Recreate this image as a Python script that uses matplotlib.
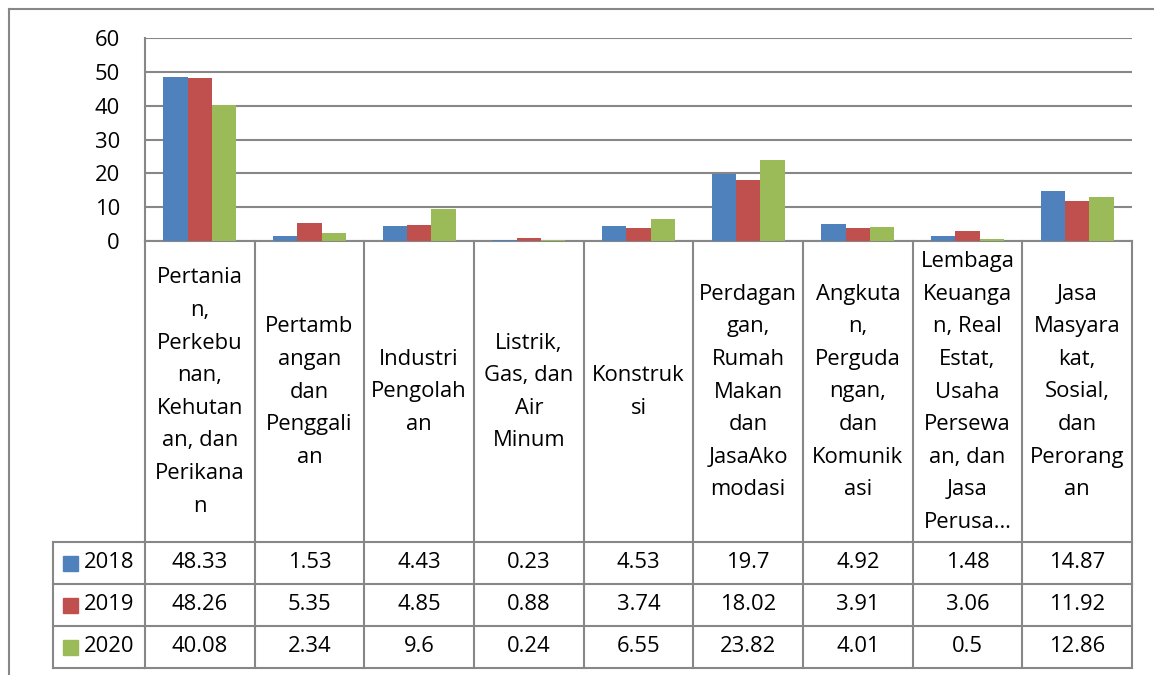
import matplotlib
matplotlib.use("Agg")
import matplotlib.pyplot as plt
from matplotlib import transforms
import numpy as np

plt.rcParams['font.family'] = ['Open Sans', 'DejaVu Sans']

categories = [
    "Pertania\nn,\nPerkebu\nnan,\nKehutan\nan, dan\nPerikana\nn",
    "Pertamb\nangan\ndan\nPenggali\nan",
    "Industri\nPengolah\nan",
    "Listrik,\nGas, dan\nAir\nMinum",
    "Konstruk\nsi",
    "Perdagan\ngan,\nRumah\nMakan\ndan\nJasaAko\nmodasi",
    "Angkuta\nn,\nPerguda\nngan,\ndan\nKomunik\nasi",
    "Lembaga\nKeuanga\nn, Real\nEstat,\nUsaha\nPersewa\nan, dan\nJasa\nPerusa…",
    "Jasa\nMasyara\nkat,\nSosial,\ndan\nPerorang\nan",
]
series_names = ["2018", "2019", "2020"]
v2018 = [48.33, 1.53, 4.43, 0.23, 4.53, 19.7, 4.92, 1.48, 14.87]
v2019 = [48.26, 5.35, 4.85, 0.88, 3.74, 18.02, 3.91, 3.06, 11.92]
v2020 = [40.08, 2.34, 9.6, 0.24, 6.55, 23.82, 4.01, 0.5, 12.86]
yticks = [0, 10, 20, 30, 40, 50, 60]

colors = ["#4F81BD", "#C0504D", "#9BBB59"]
grid_c = "#878787"
W, H = 1154, 675
FS = 15.8

fig = plt.figure(figsize=(W / 100, H / 100), dpi=100)

# plot area in pixels
px_l, px_r, px_t, px_b = 145, 1132, 38, 241
ax = fig.add_axes([px_l / W, 1 - px_b / H, (px_r - px_l) / W, (px_b - px_t) / H])
n = len(categories)
x = np.arange(n)
bw = 1 / 4.5
for i, (vals, c) in enumerate(zip([v2018, v2019, v2020], colors)):
    ax.bar(x + (i - 1) * bw, vals, width=bw, color=c, edgecolor='none', zorder=3)
ax.set_xlim(-0.5, n - 0.5)
ax.set_ylim(0, 60)
ax.set_yticks(yticks)
ax.set_yticklabels([str(t) for t in yticks], fontsize=FS)
ax.tick_params(axis='y', length=0, pad=18)
ax.set_xticks([])
ax.grid(axis='y', color=grid_c, linewidth=1.5, zorder=0)
for s in ['top', 'right', 'bottom']:
    ax.spines[s].set_visible(False)
ax.spines['left'].set_color(grid_c)
ax.spines['left'].set_linewidth(1.5)
ax.patch.set_alpha(0)

# overlay for table (pixel coordinates in y)
tab = fig.add_axes([0, 0, 1, 1], zorder=-1)
tab.set_xlim(0, W)
tab.set_ylim(H, 0)
tab.axis('off')
bt = transforms.blended_transform_factory(ax.transData, tab.transData)

lab_top, lab_bot = 241, 542
row_h = 42
rows_y = [lab_bot + k * row_h for k in range(4)]  # 542, 584, 626, 668
leg_l = 53
lw = 1.5

# outer frame
tab.plot([9, 9], [9, H], color=grid_c, lw=lw)
tab.plot([9, W], [9, 9], color=grid_c, lw=lw)

# horizontal table lines
tab.plot([-0.5, n - 0.5], [lab_top, lab_top], transform=bt, color=grid_c, lw=lw)
for yy in rows_y:
    tab.plot([leg_l, px_l], [yy, yy], color=grid_c, lw=lw)
    tab.plot([-0.5, n - 0.5], [yy, yy], transform=bt, color=grid_c, lw=lw)
# vertical lines
for k in range(n + 1):
    tab.plot([k - 0.5, k - 0.5], [lab_top, rows_y[-1]], transform=bt, color=grid_c, lw=lw)
tab.plot([leg_l, leg_l], [lab_bot, rows_y[-1]], color=grid_c, lw=lw)

# category labels
line_gap = 32.6
cy = 392
for k, lab in enumerate(categories):
    lines = lab.split("\n")
    m = len(lines)
    for j, ln in enumerate(lines):
        yy = cy + (j - (m - 1) / 2) * line_gap
        tab.text(k, yy, ln, transform=bt, ha='center', va='center', fontsize=FS)

# data rows
for r, (name, vals, c) in enumerate(zip(series_names, [v2018, v2019, v2020], colors)):
    yc = rows_y[r] + row_h / 2
    tab.add_patch(plt.Rectangle((63, yc - 7.5), 15, 15, color=c))
    tab.text(84, yc, name, ha='left', va='center', fontsize=FS)
    for k, v in enumerate(vals):
        tab.text(k, yc, f"{v:g}", transform=bt, ha='center', va='center', fontsize=FS)

fig.savefig("out.png", dpi=100)
